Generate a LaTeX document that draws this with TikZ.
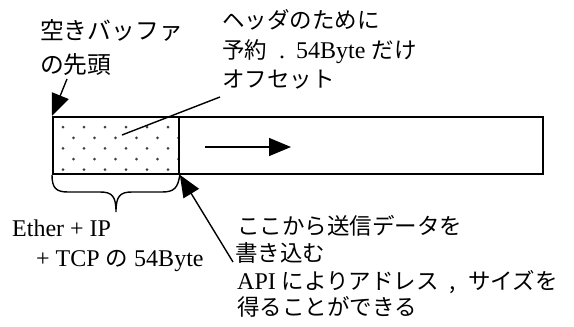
\documentclass[tikz,border=0pt]{standalone}
\usepackage{fontspec}
\setmainfont{Liberation Serif}
\newfontfamily\jpfont{Noto Sans CJK JP}
\newcommand\jtxt[1]{{\jpfont\fontsize{22.5}{27}\selectfont #1}}
\newcommand\jbig[1]{{\jpfont\fontsize{23.8}{29}\selectfont #1}}
\usetikzlibrary{arrows.meta}
\tikzset{
  lbl/.style={anchor=base west, inner sep=0pt, font=\fontsize{24}{28}\selectfont},
  boxpart/.style={draw, line width=1.8pt, anchor=north west, inner sep=0pt, minimum height=57pt},
  pointer/.style={line width=1.4pt},
  arrowline/.style={line width=1.4pt, -{Triangle[length=22pt,width=18pt]}},
  dotmark/.style={fill=black!75},
}
\begin{document}
\begin{tikzpicture}[x=1pt,y=-1pt]
\useasboundingbox (0,0) rectangle (574,327);
% dotted header area
\begin{scope}
  \clip (52,116) rectangle (178,173);
  \foreach \r in {0,...,6} {
    \pgfmathsetmacro{\yy}{116.6+10.6*\r}
    \pgfmathsetmacro{\xo}{mod(\r,2)==1 ? 63 : 52.5}
    \foreach \k in {0,...,6} {
      \fill[dotmark] (\xo+21*\k,\yy) circle (1.5);
    }
  }
\end{scope}
\node[boxpart, minimum width=126pt] (hdr) at (52,116) {};
\node[boxpart, minimum width=364pt] (data) at (178,116) {};
\coordinate (dirA) at (205,147);
\coordinate (dirB) at (291,147);
\draw[arrowline] (dirA) -- (dirB);

% labels
\node[lbl] (a1) at (40,39) {\jbig{空きバッファ}};
\node[lbl] (a2) at (40,73) {\jbig{の先頭}};
\node[lbl] (b1) at (222,28) {\jtxt{ヘッダのために}};
\node[lbl] (b2) at (222,58) {\jtxt{予約}\hspace{12pt}.\hspace{11pt}54Byte \jtxt{だけ}};
\node[lbl] (b3) at (222,87) {\jtxt{オフセット}};
\node[lbl] (c1) at (237,234) {\jtxt{ここから送信データを}};
\node[lbl] (c2) at (235,261) {\jtxt{書き込む}};
\node[lbl] (c3) at (237,289) {API \jtxt{によりアドレス}\hspace{11pt}\jtxt{,}\hspace{12pt}\jtxt{サイズを}};
\node[lbl] (c4) at (237,315) {\jtxt{得ることができる}};
\node[lbl] (d1) at (12,236) {Ether + IP};
\node[lbl] (d2) at (36,266) {+ TCP \jtxt{の} 54Byte};

% connectors
\coordinate (aS) at (67,79);
\draw[arrowline] (aS) -- (hdr.north west);
\coordinate (bS) at (220,97);
\coordinate (bE) at (122,135);
\draw[pointer] (bS) -- (bE);
\coordinate (cS) at (233,262);
\draw[arrowline] (cS) -- (hdr.south east);

% brace
\draw[line width=1.4pt] (hdr.south west) .. controls (52,188) and (56,192) .. (68,192)
  -- (100,192) .. controls (112,192) and (116,196) .. (116,212)
  .. controls (116,196) and (120,192) .. (132,192) -- (162,192)
  .. controls (174,192) and (178,188) .. (hdr.south east);
\end{tikzpicture}
\end{document}
